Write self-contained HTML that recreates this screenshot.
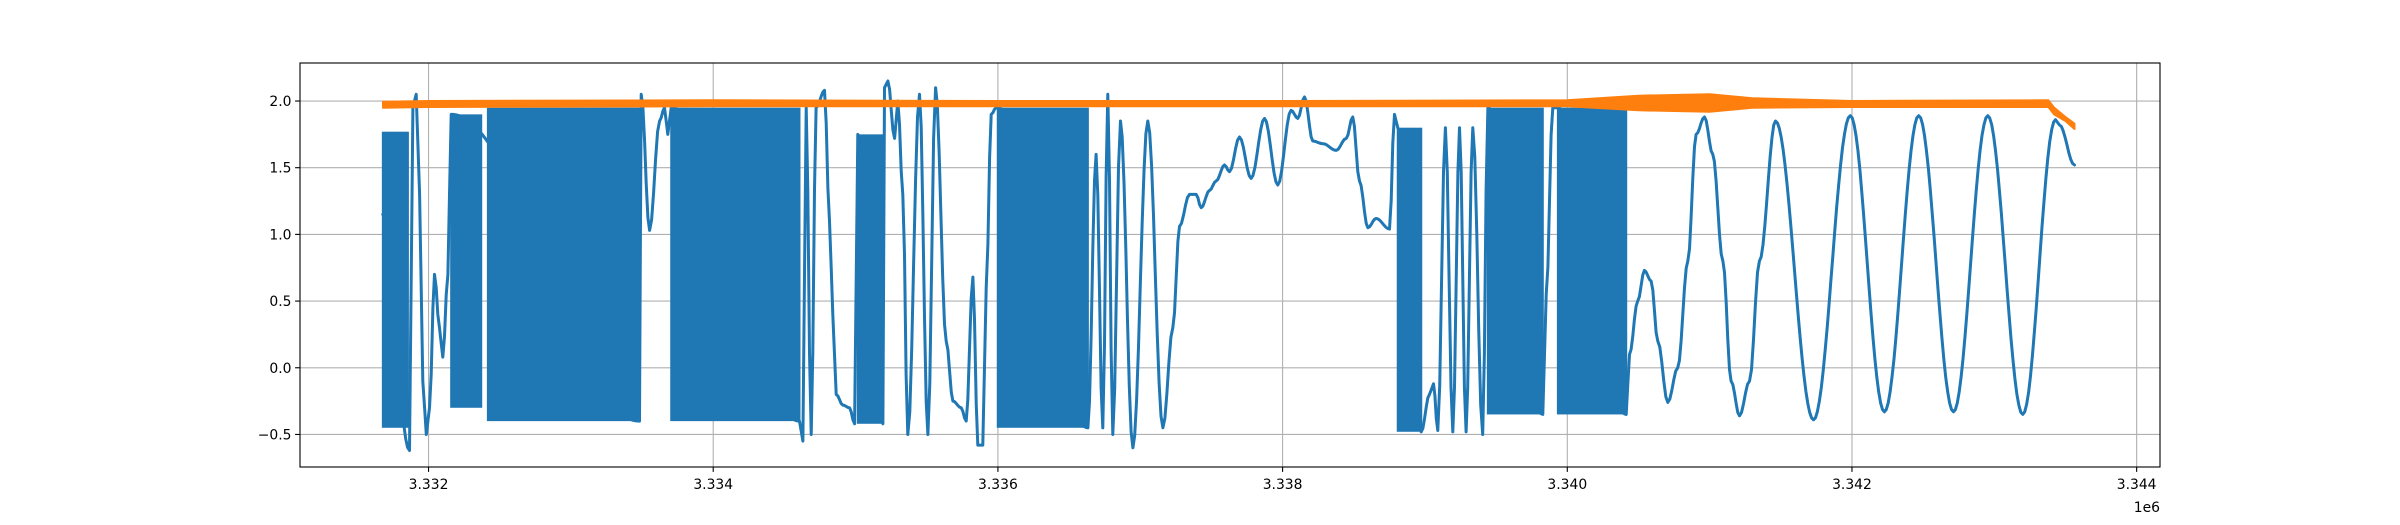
<!DOCTYPE html>
<html><head><meta charset="utf-8"><style>
html,body{margin:0;padding:0;background:#fff;}
svg{display:block;}
text{font-family:"DejaVu Sans","Liberation Sans",sans-serif;font-size:13.9px;fill:#000;}
</style></head><body>
<svg id="chart" width="2400" height="525" viewBox="0 0 2400 525" xmlns="http://www.w3.org/2000/svg">
<rect x="0" y="0" width="2400" height="525" fill="#fff"/>
<g id="grid"></g>
<g id="series"></g>
<g id="axes"></g>
</svg>
<script>
// ---- data ----
const xTicks = [3332000, 3334000, 3336000, 3338000, 3340000, 3342000, 3344000];
const xTickLabels = ["3.332", "3.334", "3.336", "3.338", "3.340", "3.342", "3.344"];
const yTicks = [-0.5, 0.0, 0.5, 1.0, 1.5, 2.0];
const yTickLabels = ["\u22120.5", "0.0", "0.5", "1.0", "1.5", "2.0"];
const xOffsetLabel = "1e6";

// blue series sparse points (smooth / sparse sections)
const blueX = [3331679,3331866,3331890,3331913,3331937,3331960,3331984,3332007,3332042,3332077,3332100,3332136,3332159,
 3333482,3333494,3333553,3333623,3333658,3333681,3333705,
 3334606,3334630,3334653,3334688,3334723,3334782,3334817,3334840,3334864,3334911,3334958,3334993,3335016,
 3335192,3335203,3335227,3335274,3335297,3335332,3335367,3335449,3335508,3335562,3335637,3335684,3335742,3335777,3335824,3335859,3335894,3335918,3335953,3335988,3335999,
 3336632,3336690,3336737,3336772,3336807,3336861,3336948,3337053,3337159,3337229,3337276,3337346,3337393,3337428,3337487,3337533,3337592,3337627,3337697,3337779,3337873,3337966,3338060,3338107,3338154,3338212,3338283,3338377,3338447,3338493,3338540,3338599,3338657,3338751,3338786,3338809,
 3338974,3339032,3339060,3339090,3339144,3339196,3339243,3339289,3339336,3339406,3339442,
 3339828,3339852,3339898,3339934,
 3340414,3340437,3340495,3340542,3340589,3340636,3340706,3340776,3340847,3340905,3340964,3341022,3341093,3341151,3341210,3341280,3341350,
 3341463,3341730,3341988,3342228,3342469,3342713,3342954,3343200,3343430,3343458,3343563];
const blueY = [1.15,-0.62,1.95,2.05,1.3,-0.1,-0.5,-0.3,0.7,0.3,0.08,0.7,1.9,
 -0.4,2.05,1.03,1.85,1.95,1.75,1.95,
 -0.4,-0.55,1.95,-0.5,1.95,2.08,1.1,0.4,-0.2,-0.28,-0.3,-0.42,1.75,
 -0.42,2.1,2.15,1.72,2.0,1.3,-0.5,2.05,-0.5,2.1,0.2,-0.25,-0.3,-0.4,0.68,-0.58,-0.58,0.6,1.9,1.95,1.95,
 -0.45,1.6,-0.45,2.05,-0.5,1.85,-0.6,1.85,-0.45,0.3,1.06,1.3,1.3,1.2,1.33,1.4,1.52,1.47,1.73,1.42,1.87,1.37,1.93,1.87,2.03,1.7,1.68,1.63,1.72,1.88,1.4,1.05,1.12,1.04,1.9,1.8,
 -0.48,-0.2,-0.12,-0.47,1.8,-0.48,1.8,-0.48,1.8,-0.5,1.95,
 -0.35,0.55,1.95,1.95,
 -0.35,0.1,0.5,0.73,0.65,0.2,-0.26,0.0,0.8,1.75,1.88,1.6,0.8,-0.1,-0.36,-0.1,0.8,
 1.85,-0.39,1.89,-0.33,1.89,-0.33,1.89,-0.35,1.86,1.82,1.52];

// blue dense switching regions: start, end, low envelope, high envelope
const bandStart = [3331679,3332159,3332417,3333705,3335016,3335999,3338809,3339442,3339934];
const bandEnd   = [3331855,3332370,3333482,3334606,3335192,3336632,3338974,3339828,3340414];
const bandLo    = [-0.45,-0.3,-0.4,-0.4,-0.42,-0.45,-0.48,-0.35,-0.35];
const bandHi    = [1.77,1.9,1.95,1.95,1.75,1.95,1.8,1.95,1.95];

// orange series envelope (noisy line)
const orangeX  = [3331680,3332000,3334000,3336000,3338000,3340000,3340500,3341000,3341300,3342000,3343380,3343420,3343500,3343563];
const orangeLo = [1.95,1.955,1.96,1.96,1.96,1.96,1.93,1.92,1.95,1.955,1.955,1.90,1.85,1.79];
const orangeHi = [1.995,2.0,2.005,2.0,2.0,2.005,2.04,2.05,2.02,2.0,2.005,1.95,1.88,1.83];

// ---- axes ----
const L=300,R=2160,T=63,B=467;
const xMin=3331097,xMax=3344164,yMin=-0.744,yMax=2.285;
const sx=v=>L+(v-xMin)/(xMax-xMin)*(R-L);
const sy=v=>B-(v-yMin)/(yMax-yMin)*(B-T);
const NS="http://www.w3.org/2000/svg";
function mk(tag,attrs,parent){const e=document.createElementNS(NS,tag);for(const k in attrs)e.setAttribute(k,attrs[k]);parent.appendChild(e);return e;}
const grid=document.getElementById('grid'),axes=document.getElementById('axes'),series=document.getElementById('series');

xTicks.forEach((v,i)=>{
  const x=sx(v);
  const g=mk('line',{x1:x,x2:x,y1:T,y2:B,stroke:'#b0b0b0','stroke-width':1.1},grid);
  
  
  const t=mk('line',{x1:x,x2:x,y1:B,y2:B+4.9,stroke:'#000','stroke-width':1.1},axes);
  
  
  const lb=mk('text',{x:x,y:B+22,'text-anchor':'middle'},axes);
  lb.textContent=xTickLabels[i];
  
  
});
yTicks.forEach((v,i)=>{
  const y=sy(v);
  const g=mk('line',{x1:L,x2:R,y1:y,y2:y,stroke:'#b0b0b0','stroke-width':1.1},grid);
  
  
  const t=mk('line',{x1:L-4.9,x2:L,y1:y,y2:y,stroke:'#000','stroke-width':1.1},axes);
  
  
  const lb=mk('text',{x:L-8.5,y:y+5,'text-anchor':'end'},axes);
  lb.textContent=yTickLabels[i];
  
  
});
const off=mk('text',{x:R,y:B+45,'text-anchor':'end'},axes);
off.textContent=xOffsetLabel;


const frame=mk('rect',{x:L,y:T,width:R-L,height:B-T,fill:'none',stroke:'#000','stroke-width':1.1},axes);



// orange envelope
let op='';
orangeX.forEach((v,i)=>{op+=(i?'L':'M')+sx(v).toFixed(1)+','+sy(orangeHi[i]).toFixed(1);});
for(let i=orangeX.length-1;i>=0;i--){op+='L'+sx(orangeX[i]).toFixed(1)+','+sy(orangeLo[i]).toFixed(1);}
op+='Z';

// blue line with half-cosine easing between points
let bp='';
for(let i=0;i<blueX.length;i++){
  const x1=sx(blueX[i]),y1=sy(blueY[i]);
  if(i===0){bp+='M'+x1.toFixed(1)+','+y1.toFixed(1);continue;}
  const x0=sx(blueX[i-1]),y0=sy(blueY[i-1]);
  const n=Math.max(2,Math.ceil((x1-x0)/2));
  for(let k=1;k<=n;k++){const t=k/n;const e=(1-Math.cos(Math.PI*t))/2;
    bp+='L'+(x0+(x1-x0)*t).toFixed(1)+','+(y0+(y1-y0)*e).toFixed(1);}
}
const blue=mk('path',{d:bp,fill:'none',stroke:'#1f77b4','stroke-width':3,'stroke-linejoin':'round','stroke-linecap':'round'},series);



bandStart.forEach((v,i)=>{
  const r=mk('rect',{x:sx(v)-1,y:sy(bandHi[i]),width:sx(bandEnd[i])-sx(v)+2,height:sy(bandLo[i])-sy(bandHi[i]),fill:'#1f77b4'},series);
  
  
});

const orange=mk('path',{d:op,fill:'#ff7f0e',stroke:'#ff7f0e','stroke-width':2,'stroke-linejoin':'round'},series);


</script>
</body></html>
